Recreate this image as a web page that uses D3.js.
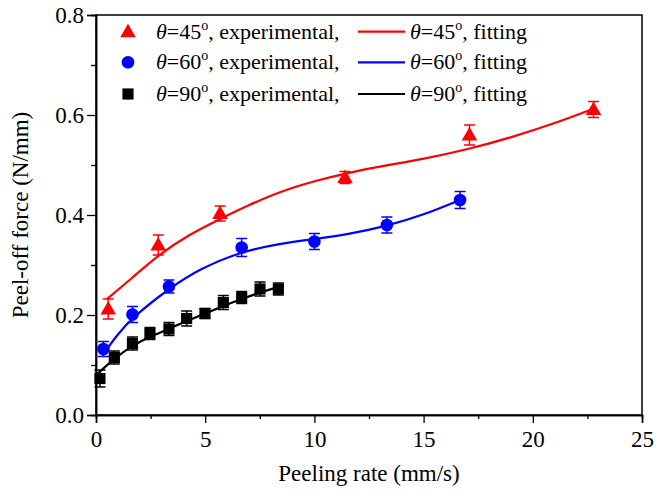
<!DOCTYPE html>
<html><head><meta charset="utf-8">
<script src="https://cdn.jsdelivr.net/npm/d3@7"></script>
<style>body{margin:0;background:#fff;} svg{display:block;}</style>
</head><body>
<svg id="c" width="656" height="496"></svg>
<script>
// ---- data ----
const xTicks = [0, 5, 10, 15, 20, 25];
const yTicks = [0.0, 0.2, 0.4, 0.6, 0.8];
const xMinorTicks = [2.5, 7.5, 12.5, 17.5, 22.5];
const yMinorTicks = [0.1, 0.3, 0.5, 0.7];

const angles = ["45", "60", "90"];
const colors = ["#ff0000", "#0000ff", "#000000"];
const symbols = ["triangle", "circle", "square"];

// experimental points: rate (mm/s), force (N/mm), error
const exp45x = [0.56, 2.85, 5.68, 11.4, 17.1, 22.78];
const exp45y = [0.212, 0.340, 0.403, 0.475, 0.560, 0.611];
const exp45e = [0.020, 0.020, 0.015, 0.012, 0.020, 0.016];

const exp60x = [0.34, 1.67, 3.34, 6.67, 10.0, 13.32, 16.67];
const exp60y = [0.132, 0.201, 0.257, 0.335, 0.347, 0.380, 0.430];
const exp60e = [0.015, 0.016, 0.013, 0.018, 0.016, 0.016, 0.017];

const exp90x = [0.18, 0.84, 1.67, 2.47, 3.34, 4.15, 4.99, 5.83, 6.67, 7.51, 8.35];
const exp90y = [0.073, 0.115, 0.143, 0.163, 0.172, 0.193, 0.203, 0.225, 0.235, 0.252, 0.252];
const exp90e = [0.017, 0.013, 0.013, 0.012, 0.013, 0.015, 0.010, 0.014, 0.012, 0.014, 0.012];

// fitting curves
const fit45x = [0.5, 1.63, 2.85, 4.3, 5.68, 7.0, 8.43, 10.0, 11.4, 13.0, 15.0, 17.1, 19.0, 21.0, 22.8];
const fit45y = [0.232, 0.273, 0.320, 0.362, 0.392, 0.420, 0.447, 0.468, 0.483, 0.497, 0.512, 0.532, 0.555, 0.583, 0.613];

const fit60x = [0.3, 1.0, 1.67, 3.34, 4.76, 6.67, 8.43, 10.0, 11.5, 13.32, 15.0, 16.67];
const fit60y = [0.120, 0.162, 0.195, 0.253, 0.293, 0.327, 0.343, 0.352, 0.361, 0.378, 0.400, 0.430];

const fit90x = [0.06, 0.84, 1.67, 2.47, 3.34, 4.15, 5.0, 5.83, 6.67, 7.51, 8.35];
const fit90y = [0.082, 0.113, 0.139, 0.157, 0.172, 0.188, 0.203, 0.218, 0.232, 0.245, 0.256];

// ---- chart ----
const W = 656, H = 496;
const m = {left: 96, right: 14, top: 15, bottom: 81};
const svg = d3.select("#c");
const FONT = "'Liberation Serif','Times New Roman',serif";

const x = d3.scaleLinear().domain([0, 25]).range([m.left, W - m.right]);
const y = d3.scaleLinear().domain([0, 0.8]).range([H - m.bottom, m.top]);

const series = [
  {ex: exp45x, ey: exp45y, ee: exp45e, fx: fit45x, fy: fit45y},
  {ex: exp60x, ey: exp60y, ee: exp60e, fx: fit60x, fy: fit60y},
  {ex: exp90x, ey: exp90y, ee: exp90e, fx: fit90x, fy: fit90y}
];

// frame
svg.append("rect").attr("x", x(0)).attr("y", y(0.8))
  .attr("width", x(25) - x(0)).attr("height", y(0) - y(0.8))
  .attr("fill", "none").attr("stroke", "#000").attr("stroke-width", 1.5);

// axes
const gx = svg.append("g").attr("transform", `translate(0,${y(0)})`)
  .call(d3.axisBottom(x).tickValues(xTicks).tickSize(8).tickPadding(8).tickFormat(d3.format("d")));
const gxm = svg.append("g").attr("transform", `translate(0,${y(0)})`)
  .call(d3.axisBottom(x).tickValues(xMinorTicks).tickSize(4).tickFormat(""));
const gy = svg.append("g").attr("transform", `translate(${x(0)},0)`)
  .call(d3.axisLeft(y).tickValues(yTicks).tickSize(9).tickPadding(3).tickFormat(d3.format(".1f")));
const gym = svg.append("g").attr("transform", `translate(${x(0)},0)`)
  .call(d3.axisLeft(y).tickValues(yMinorTicks).tickSize(5).tickFormat(""));
[gx, gxm, gy, gym].forEach(g => {
  g.select(".domain").attr("stroke-width", 1.5);
  g.selectAll(".tick line").attr("stroke-width", 1.3);
  g.selectAll("text").attr("font-family", FONT).attr("font-size", 23).attr("fill", "#000");
});

// axis titles
svg.append("text").attr("x", (x(0) + x(25)) / 2).attr("y", 481)
  .attr("text-anchor", "middle").attr("font-family", FONT).attr("font-size", 23)
  .text("Peeling rate (mm/s)");
svg.append("text").attr("transform", `translate(28,${(y(0) + y(0.8)) / 2}) rotate(-90)`)
  .attr("text-anchor", "middle").attr("font-family", FONT).attr("font-size", 23)
  .text("Peel-off force (N/mm)");

// fitting curves
const line = d3.line().x(d => x(d[0])).y(d => y(d[1])).curve(d3.curveBasis);
series.forEach((s, i) => {
  svg.append("path").datum(s.fx.map((v, j) => [v, s.fy[j]]))
    .attr("d", line).attr("fill", "none").attr("stroke", colors[i]).attr("stroke-width", 2.2);
});

// markers & error bars
const symType = {triangle: d3.symbolTriangle, circle: d3.symbolCircle, square: d3.symbolSquare};
const symSize = {triangle: 105, circle: 125, square: 125};
function drawMarker(g, type, cx, cy, color) {
  g.append("path").attr("d", d3.symbol().type(symType[type]).size(symSize[type])())
    .attr("transform", `translate(${cx},${cy + (type === "triangle" ? 1 : 0)})`).attr("fill", color);
}
series.forEach((s, i) => {
  const g = svg.append("g");
  s.ex.forEach((xv, j) => {
    const cx = x(xv), y1 = y(s.ey[j] - s.ee[j]), y2 = y(s.ey[j] + s.ee[j]);
    g.append("line").attr("x1", cx).attr("x2", cx).attr("y1", y1).attr("y2", y2)
      .attr("stroke", colors[i]).attr("stroke-width", 1.5);
    [y1, y2].forEach(yy => g.append("line").attr("x1", cx - 5.5).attr("x2", cx + 5.5)
      .attr("y1", yy).attr("y2", yy).attr("stroke", colors[i]).attr("stroke-width", 1.5));
    drawMarker(g, symbols[i], cx, y(s.ey[j]), colors[i]);
  });
});

// legend
const rowsY = [31.7, 62.3, 94];
const leg = svg.append("g").attr("font-family", FONT).attr("font-size", 22);
function labelText(t, angle, suffix) {
  t.append("tspan").attr("font-style", "italic").text("θ");
  t.append("tspan").text("=" + angle);
  t.append("tspan").attr("font-size", 14).attr("dy", -9).text("o");
  t.append("tspan").attr("dy", 9).text(suffix);
}
angles.forEach((a, i) => {
  const yy = rowsY[i];
  drawMarker(leg, symbols[i], 128, yy, colors[i]);
  const t1 = leg.append("text").attr("x", 156).attr("y", yy + 7);
  labelText(t1, a, ", experimental,");
  leg.append("line").attr("x1", 358).attr("x2", 405).attr("y1", yy).attr("y2", yy)
    .attr("stroke", colors[i]).attr("stroke-width", 2.2);
  const t2 = leg.append("text").attr("x", 410).attr("y", yy + 7);
  labelText(t2, a, ", fitting");
});
</script>
</body></html>
